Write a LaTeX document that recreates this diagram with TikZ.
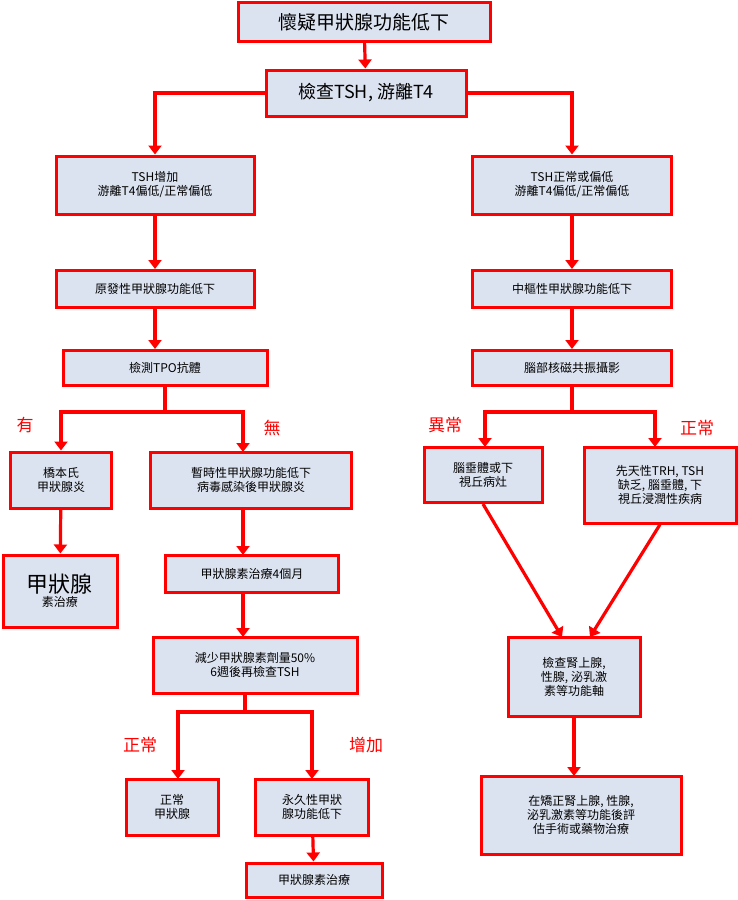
\documentclass[tikz,border=0pt]{standalone}
\usepackage{fontspec}
\setmainfont{Noto Sans CJK TC}
\usetikzlibrary{arrows.meta}
\definecolor{boxfill}{HTML}{DCE3F0}
\definecolor{rd}{HTML}{FF0000}
\tikzset{
 bx/.style={draw=rd,line width=3pt,fill=boxfill,align=center,font=\fontsize{12}{14}\selectfont,inner sep=2pt},
 ar/.style={draw=rd,line width=3.2pt,-{Triangle[length=9pt,width=13pt]}},
 ln/.style={draw=rd,line width=3.2pt},
 lb/.style={text=rd,font=\fontsize{17}{19}\selectfont}
}
\begin{document}
\begin{tikzpicture}[x=1pt,y=-1pt]
\useasboundingbox (0,0) rectangle (738,900);
\newcommand{\bxat}[6]{\node[bx,minimum width=#3,minimum height=#4] (#1) at (#2) {#5#6};}
\bxat{a}{364,22}{252}{39}{\fontsize{19}{21}\selectfont}{懷疑甲狀腺功能低下}
\bxat{b}{366,93}{200}{46}{\fontsize{18}{20}\selectfont}{檢查TSH, 游離T4}
\bxat{c}{155,185}{198}{58}{}{TSH增加\\游離T4偏低/正常偏低}
\bxat{d}{572,185}{199}{58}{}{TSH正常或偏低\\游離T4偏低/正常偏低}
\bxat{e}{155,289}{198}{37}{}{原發性甲狀腺功能低下}
\bxat{f}{572,289}{199}{37}{}{中樞性甲狀腺功能低下}
\bxat{g}{165,368}{204}{35}{}{檢測TPO抗體}
\bxat{h}{572,368}{199}{35}{}{腦部核磁共振攝影}
\bxat{i}{61,480}{101}{56}{}{橋本氏\\甲狀腺炎}
\bxat{j}{251,480}{201}{56}{}{暫時性甲狀腺功能低下\\病毒感染後甲狀腺炎}
\bxat{k}{60,591}{114}{72}{\fontsize{22}{27}\selectfont}{甲狀腺\\素治療}
\bxat{l}{252,574}{173}{37}{}{甲狀腺素治療4個月}
\bxat{m}{255,665}{204}{56}{}{減少甲狀腺素劑量50\%\\6週後再檢查TSH}
\bxat{n}{172,807}{92}{56}{}{正常\\甲狀腺}
\bxat{o}{312,807}{113}{56}{}{永久性甲狀\\腺功能低下}
\bxat{p}{314,880}{136}{34}{}{甲狀腺素治療}
\bxat{q}{483,475}{118}{55}{}{腦垂體或下\\視丘病灶}
\bxat{r}{660,485}{152}{76}{}{先天性TRH, TSH\\缺乏, 腦垂體, 下\\視丘浸潤性疾病}
\bxat{s}{574,677}{132}{79}{}{檢查腎上腺,\\性腺, 泌乳激\\素等功能軸}
\bxat{t}{581,815}{200}{78}{}{在矯正腎上腺, 性腺,\\泌乳激素等功能後評\\估手術或藥物治療}
\draw[ar] (a) -- (b);
\draw[ar] (b.west) -| (c.north);
\draw[ar] (b.east) -| (d.north);
\draw[ar] (c) -- (e);
\draw[ar] (d) -- (f);
\draw[ar] (e) -- (g.north -| e);
\draw[ar] (f) -- (h);
\coordinate (g1) at (165,412);
\draw[ln] (g.south) -- (g1);
\draw[ar] (g1) -| (i.north);
\draw[ar] (g1) -| (243,452);
\coordinate (h1) at (572,412);
\draw[ln] (h.south) -- (h1);
\draw[ar] (h1) -| (485,447);
\draw[ar] (h1) -| (655,447);
\draw[ar] (i) -- (k);
\draw[ar] (243,508) -- (243,555);
\draw[ar] (243,593) -- (243,637);
\coordinate (m1) at (245,712);
\draw[ln] (245,694) -- (m1);
\draw[ar] (m1) -| (178,779);
\draw[ar] (m1) -| (312,779);
\draw[ar] (o) -- (p);
\draw[ar] (q.south) -- (562,637);
\draw[ar] (r.south) -- (590,637);
\draw[ar] (s) -- (574,776);
\node[lb] at (25,425) {有};
\node[lb] at (272,428) {無};
\node[lb] at (445,425) {異常};
\node[lb] at (697,428) {正常};
\node[lb] at (140,745) {正常};
\node[lb] at (366,745) {增加};
\end{tikzpicture}
\end{document}
